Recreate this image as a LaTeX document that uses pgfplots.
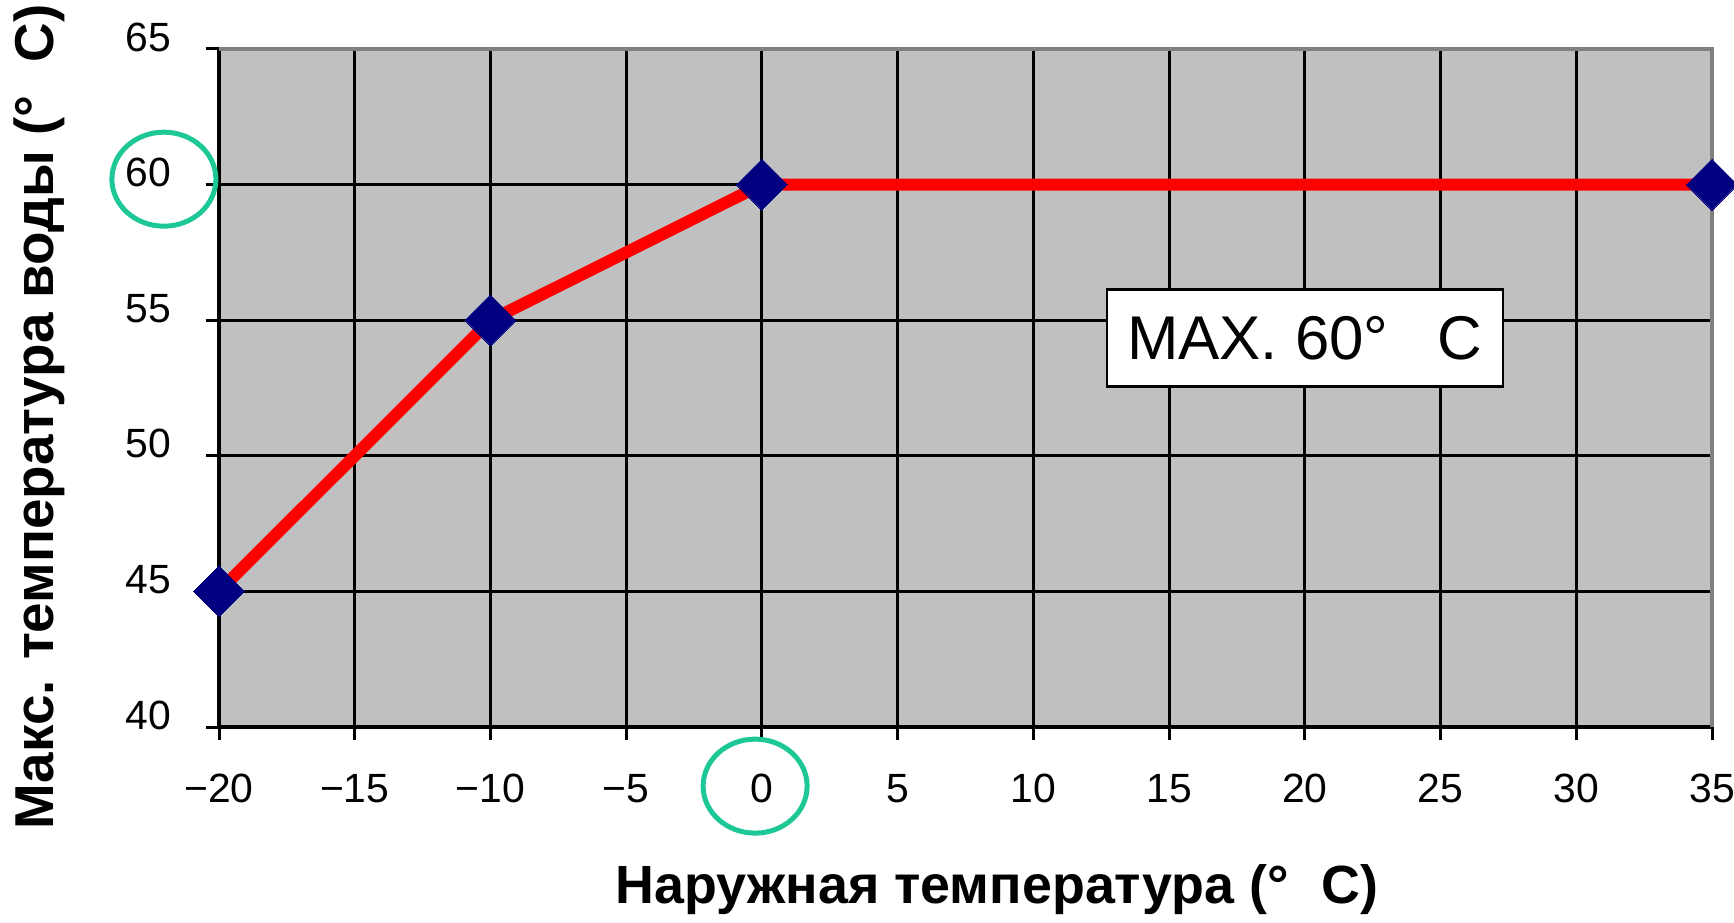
\documentclass[border=0pt]{standalone}
\usepackage{pgfplots}
\pgfplotsset{compat=1.18}
\usepackage{fontspec}
\setmainfont{Liberation Sans}
\definecolor{bg}{RGB}{192,192,192}
\definecolor{navy}{RGB}{0,0,128}
\definecolor{mint}{RGB}{30,200,150}
\definecolor{bordergray}{RGB}{128,128,128}
\begin{document}
\begin{tikzpicture}
\begin{axis}[
  name=ax,
  scale only axis,
  width=746.5bp, height=339bp,
  xmin=-20, xmax=35, ymin=40, ymax=65,
  xtick={-20,-15,...,35},
  xticklabels={−20,−15,−10,−5,0,5,10,15,20,25,30,35},
  ytick={40,45,...,65},
  axis x line*=bottom, axis y line*=left,
  axis line style={line width=1.7bp, black, -},
  tick align=outside,
  major tick length=6.5bp,
  tick style={line width=1.5bp, black},
  grid=major,
  grid style={line width=1.5bp, black},
  axis background/.style={fill=bg},
  ticklabel style={font=\fontsize{20.5}{24}\selectfont},
  xticklabel style={yshift=-13.5bp},
  yticklabel style={xshift=-14bp, yshift=6bp},
  /pgf/number format/assume math mode=true,
  clip=false,
]
\draw[bordergray, line width=2bp] (rel axis cs:0,1) -- (rel axis cs:1,1) -- (rel axis cs:1,0);
\addplot[red, line width=6bp, mark=square*, mark size=9bp,
  mark options={fill=navy, draw=navy, line width=0pt, rotate=45}]
  coordinates {(-20,45) (-10,55) (0,60) (35,60)};
\node[draw=black, fill=white, line width=1.2bp, minimum width=198bp, minimum height=48.5bp,
  font=\fontsize{31}{36}\selectfont] at (axis cs:20,54.34) {MAX. 60°\hspace{0.8em}C};
\draw[mint, line width=2.5bp] (axis cs:-22.03,60.2) ellipse [x radius=26bp, y radius=23.5bp];
\draw[mint, line width=2.5bp] (axis cs:-0.25,37.82) ellipse [x radius=26bp, y radius=23.5bp];
\end{axis}
\node[font=\bfseries\fontsize{27}{33}\selectfont] at ([shift={(389bp,-81.5bp)}]ax.south west) {Наружная температура (°\hspace{0.6em}C)};
\node[rotate=90, font=\bfseries\fontsize{27.5}{33}\selectfont] at ([shift={(-90bp,155bp)}]ax.south west) {Макс. температура воды (°\hspace{0.6em}C)};
\pgfresetboundingbox
\path[use as bounding box] ([shift={(-109.5bp,-97.5bp)}]ax.south west) rectangle ([shift={(11bp,24.5bp)}]ax.north east);
\end{tikzpicture}
\end{document}
